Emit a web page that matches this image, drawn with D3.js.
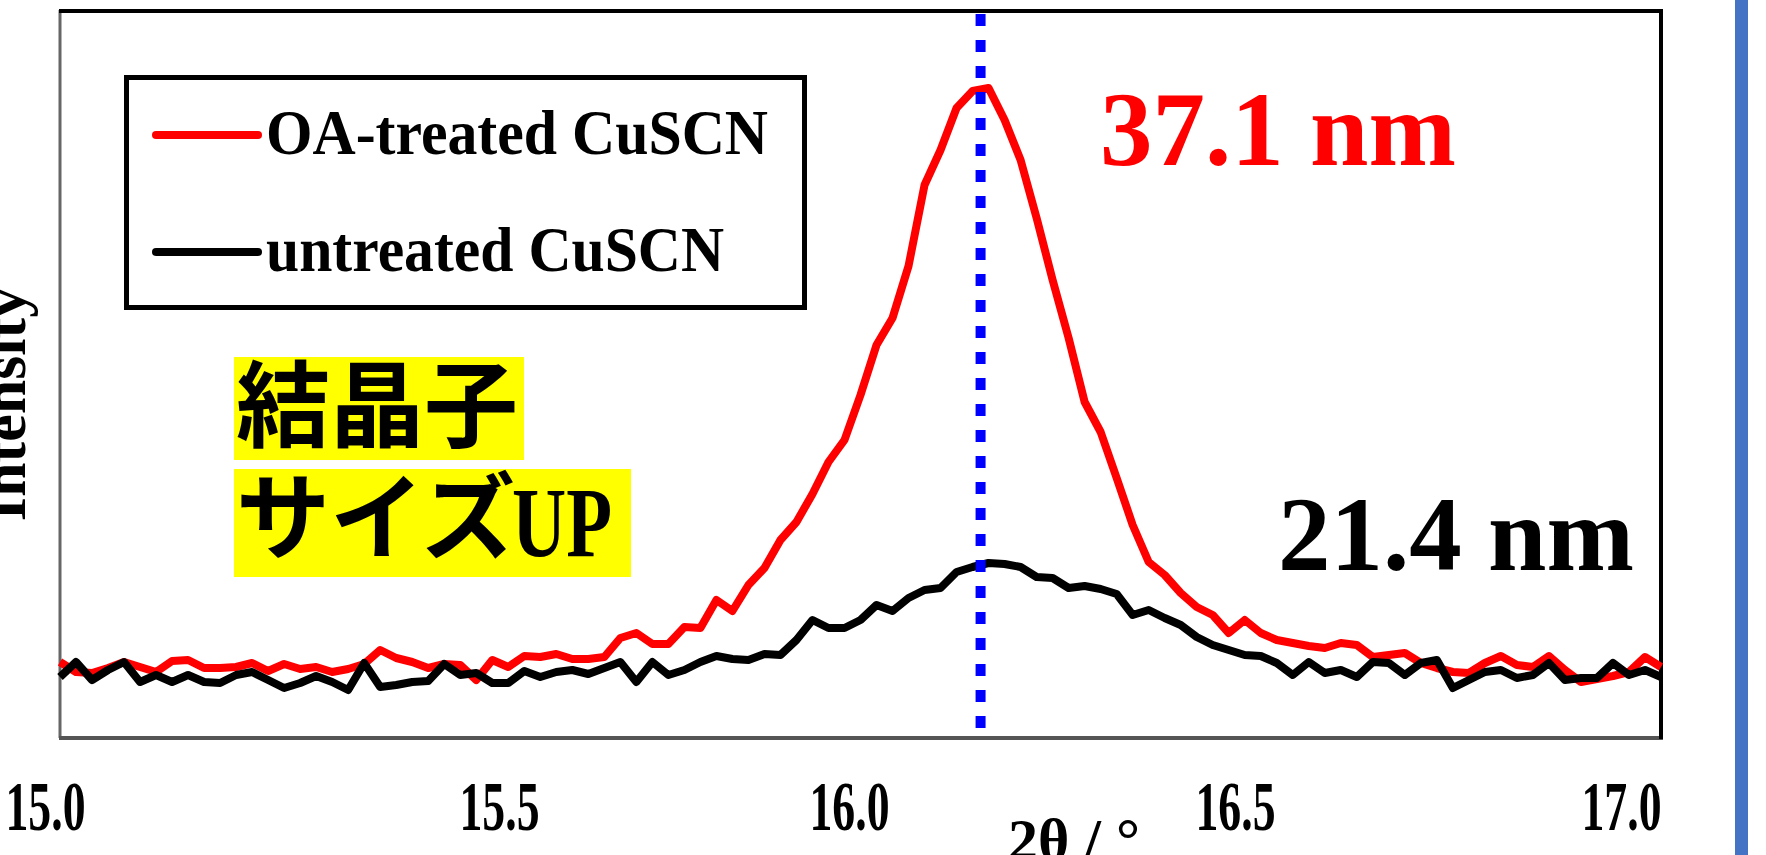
<!DOCTYPE html>
<html>
<head>
<meta charset="utf-8">
<script src="https://cdn.jsdelivr.net/npm/d3@7"></script>
<style>
  html, body { margin: 0; padding: 0; background: #ffffff; overflow: hidden; }
  svg { display: block; }
</style>
</head>
<body>
<svg id="chart" width="1766" height="855"></svg>
<script>
// ---------------- data ----------------
const angleStart = 15.00;   // 2θ of first sample (°)
const angleStep = 0.02;     // scan step (°)

// intensities (a.u.), one per scan step 15.00 → 17.00
const treated = [76, 66, 65, 70, 76, 71, 66, 77, 78, 70, 70, 71, 75, 67, 74, 69, 71, 66, 69, 74,
  88, 80, 76, 70, 74, 73, 58, 78, 71, 82, 81, 84, 79, 79, 81, 100, 105, 94, 94, 111,
  110, 138, 127, 153, 170, 198, 216, 244, 276, 298, 343, 393, 420, 472, 553, 588, 630, 647, 650, 618,
  578, 520, 458, 400, 336, 306, 260, 213, 176, 163, 145, 131, 123, 105, 118, 105, 98, 95, 92, 90,
  95, 93, 81, 83, 85, 75, 70, 66, 65, 75, 82, 73, 71, 82, 68, 56, 59, 62, 66, 81, 71];

const untreated = [61, 76, 58, 68, 76, 56, 63, 56, 63, 56, 55, 63, 66, 58, 50, 55, 62, 56, 48, 75,
  51, 53, 56, 57, 74, 63, 65, 55, 55, 67, 61, 66, 68, 64, 70, 76, 56, 76, 63, 68,
  76, 82, 79, 78, 84, 83, 98, 118, 110, 110, 118, 133, 127, 140, 148, 150, 166, 171, 175, 174,
  171, 161, 160, 150, 152, 149, 144, 123, 128, 120, 113, 101, 93, 88, 83, 82, 75, 63, 76, 65,
  68, 61, 76, 75, 63, 75, 78, 50, 58, 66, 68, 60, 63, 75, 58, 60, 60, 75, 63, 68, 61];

const seriesNames = ["OA-treated CuSCN", "untreated CuSCN"];
const seriesColors = ["#ff0000", "#000000"];
const xTicks = [15.0, 15.5, 16.0, 16.5, 17.0];
const xDomain = [15, 17];
const yDomain = [0, 728];
const peakAngle = 16.15;
const sizeLabels = ["37.1 nm", "21.4 nm"];
const noteLines = ["結晶子", "サイズ", "UP"];
const xTitle = "2θ / °";
const yTitle = "Intensity";

// ---------------- layout ----------------
const svg = d3.select("#chart");
const plot = { left: 60, right: 1661, top: 10, bottom: 738 };

const x = d3.scaleLinear().domain(xDomain).range([plot.left, plot.right]);
const y = d3.scaleLinear().domain(yDomain).range([plot.bottom, plot.top]);
// tick labels in the picture sit slightly off the data positions
const xLabel = d3.scaleLinear().domain([15, 15.5, 16, 17]).range([45, 499, 849, 1621]);

const serif = "'Liberation Serif', 'Times New Roman', serif";
const cjk = "'Noto Sans CJK JP', sans-serif";

// right blue slide bar
svg.append("rect").attr("x", 1735).attr("y", 0).attr("width", 13).attr("height", 855)
  .attr("fill", "#4472c4");

// frame
const frame = svg.append("g");
frame.append("line").attr("x1", plot.left).attr("x2", plot.left)
  .attr("y1", plot.top).attr("y2", plot.bottom).attr("stroke", "#666").attr("stroke-width", 3);
frame.append("line").attr("x1", plot.left - 1).attr("x2", plot.right + 2)
  .attr("y1", plot.bottom).attr("y2", plot.bottom).attr("stroke", "#555").attr("stroke-width", 4);
frame.append("line").attr("x1", plot.left - 1).attr("x2", plot.right + 2)
  .attr("y1", plot.top + 1).attr("y2", plot.top + 1).attr("stroke", "#000").attr("stroke-width", 4);
frame.append("line").attr("x1", plot.right).attr("x2", plot.right)
  .attr("y1", plot.top - 1).attr("y2", plot.bottom + 1).attr("stroke", "#000").attr("stroke-width", 4);

// x tick labels
const axis = d3.axisBottom(xLabel).tickValues(xTicks).tickFormat(d3.format(".1f")).tickSize(0).tickPadding(0);
const ax = svg.append("g").attr("transform", `translate(0, 830)`).call(axis);
ax.select(".domain").remove();
ax.selectAll("text")
  .attr("y", 0).attr("dy", 0)
  .attr("font-family", serif).attr("font-weight", "bold").attr("font-size", 70)
  .attr("fill", "#000")
  .attr("textLength", 80).attr("lengthAdjust", "spacingAndGlyphs");

// axis titles
svg.append("text").attr("x", 1008).attr("y", 860)
  .attr("font-family", serif).attr("font-weight", "bold").attr("font-size", 60)
  .text(xTitle);
svg.append("text").attr("transform", `translate(25, 404) rotate(-90)`)
  .attr("text-anchor", "middle")
  .attr("font-family", serif).attr("font-weight", "bold").attr("font-size", 62)
  .text(yTitle);

// series lines
const line = d3.line()
  .x((d, i) => x(angleStart + i * angleStep))
  .y(d => y(d));

svg.append("path").datum(treated).attr("d", line)
  .attr("fill", "none").attr("stroke", seriesColors[0]).attr("stroke-width", 8)
  .attr("stroke-linejoin", "round");
svg.append("path").datum(untreated).attr("d", line)
  .attr("fill", "none").attr("stroke", seriesColors[1]).attr("stroke-width", 8)
  .attr("stroke-linejoin", "round");

// peak position marker
svg.append("line").attr("x1", x(peakAngle)).attr("x2", x(peakAngle))
  .attr("y1", plot.top + 4).attr("y2", plot.bottom - 8)
  .attr("stroke", "#0000ff").attr("stroke-width", 10)
  .attr("stroke-dasharray", "12 14");

// legend
const lg = svg.append("g");
lg.append("rect").attr("x", 126.5).attr("y", 77.5).attr("width", 678).attr("height", 230)
  .attr("fill", "#fff").attr("stroke", "#000").attr("stroke-width", 5);
const legendRows = [135, 252];
seriesNames.forEach((name, i) => {
  lg.append("line").attr("x1", 156).attr("x2", 258)
    .attr("y1", legendRows[i]).attr("y2", legendRows[i])
    .attr("stroke", seriesColors[i]).attr("stroke-width", 8).attr("stroke-linecap", "round");
  lg.append("text").attr("x", 266).attr("y", legendRows[i] + 19)
    .attr("font-family", serif).attr("font-weight", "bold").attr("font-size", 63)
    .attr("textLength", i === 0 ? 502 : 458).attr("lengthAdjust", "spacingAndGlyphs")
    .attr("fill", "#000").text(name);
});

// crystallite size labels
svg.append("text").attr("x", 1100).attr("y", 165)
  .attr("font-family", serif).attr("font-weight", "bold").attr("font-size", 105)
  .attr("fill", seriesColors[0]).text(sizeLabels[0]);
svg.append("text").attr("x", 1278).attr("y", 570)
  .attr("font-family", serif).attr("font-weight", "bold").attr("font-size", 105)
  .attr("fill", seriesColors[1]).text(sizeLabels[1]);

// yellow note
svg.append("rect").attr("x", 234).attr("y", 357).attr("width", 290).attr("height", 103).attr("fill", "#ffff00");
svg.append("rect").attr("x", 234).attr("y", 469).attr("width", 397).attr("height", 108).attr("fill", "#ffff00");
svg.append("text").attr("x", 236).attr("y", 440)
  .attr("font-family", cjk).attr("font-weight", "bold").attr("font-size", 94)
  .attr("fill", "#000").text(noteLines[0]);
svg.append("text").attr("x", 236).attr("y", 552)
  .attr("font-family", cjk).attr("font-weight", "bold").attr("font-size", 94)
  .attr("fill", "#000").text(noteLines[1]);
svg.append("text").attr("x", 512).attr("y", 556)
  .attr("font-family", serif).attr("font-weight", "bold").attr("font-size", 100)
  .attr("textLength", 100).attr("lengthAdjust", "spacingAndGlyphs")
  .attr("fill", "#000").text(noteLines[2]);
</script>
</body>
</html>
